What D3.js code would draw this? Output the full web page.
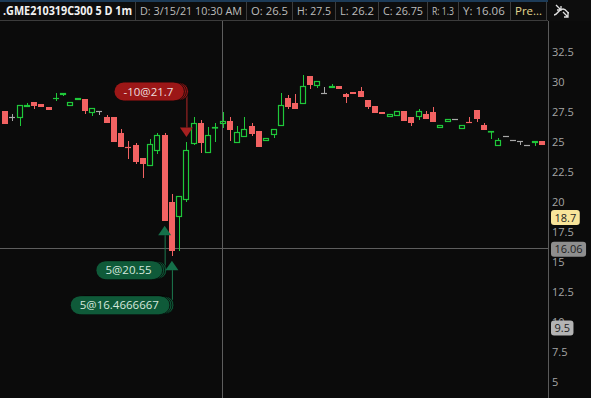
<!DOCTYPE html>
<html><head><meta charset="utf-8">
<script src="https://cdn.jsdelivr.net/npm/d3@7"></script>
<style>
html,body{margin:0;padding:0;background:#0b0b0b;overflow:hidden}
svg{display:block}
</style></head>
<body>
<svg id="c" width="591" height="398"></svg>
<script>
// ---- data ----
const opens  = [27.58,27.06,27.03,27.94,28.33,28.17,27.92,28.65,28.92,28.03,28.5,28.58,27.44,27.56,27.08,27.08,25.75,24.58,24.75,23.67,23.03,24.25,25.58,20.0,18.78,20.17,24.86,26.56,24.06,26.2,26.5,26.75,24.94,25.44,26.33,25.92,25.06,25.61,26.36,28.67,28.25,28.19,30.5,29.69,29.06,29.53,29.67,29.0,29.17,29.25,28.5,28.0,27.5,27.06,27.19,27.58,27.08,27.11,27.33,27.5,26.19,26.69,26.89,26.11,26.66,27.67,26.42,25.83,24.69,25.47,25.14,25.06,24.72,24.89,25.08];
const highs  = [27.58,27.3,28.08,28.22,28.33,28.17,27.92,29.08,29.08,28.31,28.67,28.58,27.81,27.56,27.22,27.08,26.08,25.08,24.94,23.67,25.22,25.72,25.72,20.67,20.47,25.0,27.11,26.8,26.22,26.61,27.5,27.06,26.33,27.06,26.56,25.92,25.31,26.08,29.11,28.94,29.0,30.58,30.5,30.06,29.61,29.81,29.67,29.05,29.17,29.56,28.5,28.0,27.5,27.33,27.56,27.58,27.08,27.75,27.56,27.92,26.44,26.92,26.89,26.39,27.06,27.67,26.58,25.92,25.33,25.47,25.14,25.06,24.72,25.08,25.08];
const lows   = [26.53,26.75,26.36,27.94,27.78,27.94,27.69,28.39,28.83,28.03,28.5,27.31,27.19,27.28,26.58,25.03,24.58,23.58,23.14,21.97,23.03,24.03,18.44,15.53,15.94,19.97,24.72,24.06,24.06,25.0,26.2,25.11,24.94,25.44,25.5,24.61,25.06,25.33,26.36,27.78,27.75,28.19,29.44,29.53,29.06,29.53,29.44,28.28,29.03,28.78,27.78,27.44,27.36,27.06,27.19,26.78,26.36,26.86,26.92,26.67,26.19,26.69,26.89,26.11,26.64,26.69,26.0,25.28,24.69,25.47,25.14,24.78,24.72,24.64,24.78];
const closes = [26.53,27.06,28.08,28.11,28.03,27.94,27.69,28.68,29.08,28.31,28.67,27.58,27.81,27.56,26.58,25.03,24.58,24.55,23.36,23.19,24.81,25.58,18.44,15.94,20.47,24.31,26.58,24.94,25.58,26.23,26.75,26.03,25.83,26.06,25.67,24.61,25.31,26.08,28.06,27.92,27.75,29.64,29.78,30.06,29.06,29.69,29.44,28.78,29.03,28.78,27.94,27.44,27.36,27.33,27.56,26.78,26.61,27.58,26.92,26.67,26.42,26.92,26.89,26.39,26.64,26.92,26.0,25.92,25.17,25.47,25.14,25.06,24.72,25.08,24.78];
const yTicks = [5,7.5,10,12.5,15,17.5,20,22.5,25,27.5,30,32.5];
const headerLabels = [".GME210319C300 5 D 1m","D: 3/15/21 10:30 AM","O: 26.5","H: 27.5","L: 26.2","C: 26.75","R: 1.3","Y: 16.06","Pre..."];
const headerEdges = [0,135,246,292,335,378,427,458,510,546];
const orderIndex = [25,22,23];          // candle of each order
const orderText  = ["-10@21.7","5@20.55","5@16.4666667"];
const orderSide  = ["sell","buy","buy"];
const priceMarks = [18.7,16.06,9.5];
const crossIndex = 30, crossPrice = 16.06;

// ---- scales ----
const svg = d3.select("#c");
const W=591,H=398, axisX=548, topY=21;
const x = d3.scaleLinear().domain([0, opens.length-1]).range([5,542]);
const y = d3.scaleLinear().domain([5,32.5]).range([382,52]);
const font = "'Open Sans', 'Noto Sans', sans-serif";
const RED="#f26262", GREEN="#1fc83a", GRAY="#a8a8a8";

svg.append("rect").attr("width",W).attr("height",H).attr("fill","#0b0b0b");

// crosshair
const cx0 = Math.round(x(crossIndex))-0.5;
svg.append("line").attr("x1",cx0).attr("x2",cx0).attr("y1",topY).attr("y2",H).attr("stroke","#5e5e5e");
const cy0 = Math.round(y(crossPrice))-0.5;
svg.append("line").attr("x1",0).attr("x2",axisX).attr("y1",cy0).attr("y2",cy0).attr("stroke","#5e5e5e");

// candles
const data = opens.map((o,i)=>({i,o,h:highs[i],l:lows[i],c:closes[i]}));
const g = svg.append("g");
data.forEach(d=>{
  const cx = Math.round(x(d.i));
  const wx = cx+0.5;
  const col = d.o===d.c ? GRAY : (d.c>d.o ? GREEN : RED);
  const yo=y(d.o), yc=y(d.c), yh=y(d.h), yl=y(d.l);
  const bt=Math.round(Math.min(yo,yc)), bb=Math.round(Math.max(yo,yc));
  if (Math.round(yh) < bt) g.append("line").attr("x1",wx).attr("x2",wx).attr("y1",Math.round(yh)).attr("y2",bt).attr("stroke",col);
  if (Math.round(yl) > bb) g.append("line").attr("x1",wx).attr("x2",wx).attr("y1",bb).attr("y2",Math.round(yl)).attr("stroke",col);
  if (bb-bt < 1) {
    g.append("line").attr("x1",cx-3).attr("x2",cx+3).attr("y1",bt+0.5).attr("y2",bt+0.5).attr("stroke",col).attr("stroke-width",1.2);
  } else if (d.c>d.o) {
    g.append("rect").attr("x",cx-2.5).attr("y",bt+0.5).attr("width",5).attr("height",Math.max(bb-bt-1,0.5))
      .attr("fill","none").attr("stroke",col).attr("stroke-width",1.2);
  } else {
    g.append("rect").attr("x",cx-3).attr("y",bt).attr("width",6).attr("height",bb-bt).attr("fill",col);
  }
});

// orders
orderIndex.forEach((ci,k)=>{
  const d = data[ci];
  const cx = x(ci);
  const sell = orderSide[k]==="sell";
  const fill = sell ? "#9c1717" : "#0f5a39";
  const triCol = sell ? "#a52020" : "#15704a";
  const lineCol = sell ? "#b22828" : "#1c7a50";
  const txtCol = sell ? "#ecdede" : "#d6e8de";
  let apex, base, pillY;
  if (sell) { apex = y(d.h)-5; base = apex-9.5; pillY = base-36; }
  else { apex = y(d.l)+5; base = apex+9.5; pillY = base+35; }
  svg.append("line").attr("x1",cx+0.5).attr("x2",cx+0.5).attr("y1",base).attr("y2",pillY).attr("stroke",lineCol);
  svg.append("path").attr("d",`M${cx-6.5},${base}L${cx+6.5},${base}L${cx},${apex}Z`).attr("fill",triCol);
  const pg = svg.append("g");
  const t = pg.append("text").attr("font-family",font).attr("font-size",11.5).text(orderText[k]);
  const tw = t.node().getComputedTextLength();
  const pw = tw+18, ph=18;
  const px = cx-4-pw;
  [6,4,2].forEach(off=>{
    pg.insert("rect","text").attr("x",px+off).attr("y",pillY-ph/2).attr("width",pw).attr("height",ph).attr("rx",9)
      .attr("fill",fill).attr("stroke","#060606").attr("stroke-width",0.8);
  });
  pg.insert("rect","text").attr("x",px).attr("y",pillY-ph/2).attr("width",pw).attr("height",ph).attr("rx",9).attr("fill",fill);
  t.attr("x",px+pw/2).attr("y",pillY+4).attr("text-anchor","middle").attr("fill",txtCol);
});

// axis
svg.append("line").attr("x1",axisX+0.5).attr("x2",axisX+0.5).attr("y1",topY).attr("y2",H).attr("stroke","#5a5a5a");
const ax = svg.append("g").attr("transform",`translate(${axisX},0)`)
  .call(d3.axisRight(y).tickValues(yTicks).tickSize(0).tickPadding(4).tickFormat(d3.format("")));
ax.select(".domain").remove();
ax.selectAll("text").attr("font-family",font).attr("font-size",11).attr("fill","#a5a5a5").attr("x",4);

// price marks
const markFill = ["#f8e49a","#8e8e8e","#b4b4b4"];
priceMarks.forEach((p,k)=>{
  const mg = svg.append("g");
  const t = mg.append("text").attr("font-family",font).attr("font-size",11).attr("fill","#1e1e1e").text(p);
  const tw = t.node().getComputedTextLength();
  const yy = y(p);
  mg.insert("rect","text").attr("x",551).attr("y",yy-7.5).attr("width",tw+7).attr("height",15).attr("rx",3).attr("fill",markFill[k]);
  t.attr("x",554.5).attr("y",yy+4);
});

// header
const hdr = svg.append("g");
hdr.append("rect").attr("x",0).attr("y",0).attr("width",W).attr("height",topY).attr("fill","#0d0d0d");
hdr.append("rect").attr("x",0).attr("y",0).attr("width",axisX).attr("height",2).attr("fill","#1d3b57");
hdr.append("line").attr("x1",0).attr("x2",axisX).attr("y1",topY-0.5).attr("y2",topY-0.5).attr("stroke","#3c3c3c");
headerLabels.forEach((lbl,k)=>{
  const x0=headerEdges[k], x1=headerEdges[k+1];
  if (k>0) hdr.append("line").attr("x1",x0+0.5).attr("x2",x0+0.5).attr("y1",2).attr("y2",topY).attr("stroke","#3c3c3c");
  const t = hdr.append("text").attr("x",x0+(k===0?3:5)).attr("y",15).attr("font-family",font).attr("font-size",k===0?11.5:11.5)
    .attr("font-weight",k===0?"bold":"normal").attr("fill",k===0?"#f2f2f2":(k===headerLabels.length-1?"#e6d890":"#bdbdbd")).text(lbl);
  const avail = x1-x0-(k===0?6:9);
  if (t.node().getComputedTextLength()>avail) t.attr("textLength",avail).attr("lengthAdjust","spacingAndGlyphs");
});
hdr.append("line").attr("x1",546.5).attr("x2",546.5).attr("y1",2).attr("y2",topY).attr("stroke","#3c3c3c");
const ic = hdr.append("g").attr("stroke","#e0e0e0").attr("fill","none").attr("stroke-width",1.3);
ic.append("path").attr("d","M556,5 L561,10 M561,6 L561,10 L557,10");
ic.append("path").attr("d","M554,15 C558,15 558,9 563,9 C567,9 566,13 569,13");
ic.append("path").attr("d","M563,12 L568,17 M564,17 L568,17 L568,13");
</script>
</body></html>
